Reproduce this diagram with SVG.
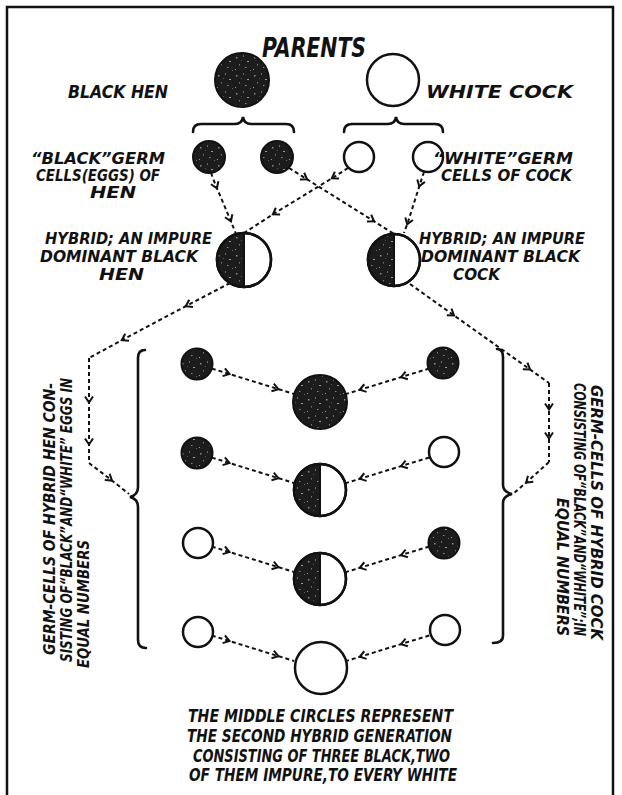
<svg xmlns="http://www.w3.org/2000/svg" width="622" height="795" viewBox="0 0 622 795">
<style>
.t{font-family:"DejaVu Sans Condensed","DejaVu Sans","Liberation Sans",sans-serif;font-weight:bold;font-style:oblique;fill:#111;font-size:16px;}
.s{font-size:15px;}
.b{fill:url(#spk);stroke:#111;stroke-width:2;}
.w{fill:#fff;stroke:#111;stroke-width:2.5;}
.h{fill:url(#spk);stroke:none;}
.c{fill:none;stroke:#111;stroke-width:2;stroke-dasharray:4 3;marker-mid:url(#arr);}
.br{fill:none;stroke:#111;stroke-width:2.6;stroke-linecap:round;}
</style>
<defs>
<pattern id="spk" width="18" height="18" patternUnits="userSpaceOnUse">
<rect width="18" height="18" fill="#1c1c1c"/>
<rect x="2" y="3" width="1.5" height="1.5" fill="#8a8a8a"/>
<rect x="9" y="1" width="1" height="2" fill="#6a6a6a"/>
<rect x="13" y="7" width="2" height="1" fill="#9a9a9a"/>
<rect x="5" y="10" width="1" height="1.5" fill="#777"/>
<rect x="11" y="13" width="1.5" height="1" fill="#888"/>
<rect x="1" y="15" width="1" height="1" fill="#999"/>
<rect x="16" y="16" width="1" height="1" fill="#666"/>
<rect x="7" y="6" width="1" height="1" fill="#555"/>
</pattern>
<marker id="arr" viewBox="-6 -6 12 12" markerWidth="12" markerHeight="12" markerUnits="userSpaceOnUse" orient="auto" refX="0" refY="0">
<path d="M-3.5,-4 L2.5,0 L-3.5,4" fill="none" stroke="#111" stroke-width="2"/>
</marker>
</defs>
<rect width="622" height="795" fill="#fff"/>
<path d="M7,795 L7,7 L613,7 L613,795" fill="none" stroke="#111" stroke-width="2.5"/>

<g id="connectors">
<path class="c" d="M211,173 L216,186 L230,219 L236,234"/>
<path class="c" d="M289,168 L305,178 L372,220 L394,234"/>
<path class="c" d="M348,168 L334,177 L275,213 L244,233"/>
<path class="c" d="M424,172 L420,184 L408,222 L404,233"/>
<path class="c" d="M230,283 L188,305 L124,339 L89,358"/>
<path class="c" d="M89,358 L89,400 L89,442 L89,463"/>
<path class="c" d="M89,463 L110,479 L129,494"/>
<path class="c" d="M410,284 L452,314 L528,368 L549,383"/>
<path class="c" d="M549,383 L549,407 L549,436 L549,462"/>
<path class="c" d="M549,462 L528,481 L514,493"/>
<path class="c" d="M211.8,368.6 L227.1,373.3 L276,388.4 L294.2,394"/>
<path class="c" d="M429.2,368.5 L403.4,376.4 L362.1,389.1 L345.8,394.1"/>
<path class="c" d="M211.8,457.6 L227.1,462.3 L276,477.4 L294.2,483"/>
<path class="c" d="M429.2,457.5 L403.4,465.4 L362.1,478.1 L345.8,483.1"/>
<path class="c" d="M211.8,546.6 L227.1,551.3 L276,566.4 L294.2,572"/>
<path class="c" d="M429.2,546.5 L403.4,554.4 L362.1,567.1 L345.8,572.1"/>
<path class="c" d="M211.8,635.6 L227.1,640.3 L276,655.4 L294.2,661"/>
<path class="c" d="M429.2,635.5 L403.4,643.4 L362.1,656.1 L345.8,661.1"/>
</g>

<g id="title"><text class="t" x="262" y="57" style="font-size:26px" textLength="104" lengthAdjust="spacingAndGlyphs">PARENTS</text></g>

<g id="black-hen">
<circle class="b" cx="242" cy="80" r="27"/>
<text class="t" x="68" y="98" style="font-size:18px" textLength="100" lengthAdjust="spacingAndGlyphs">BLACK HEN</text>
</g>
<g id="white-cock">
<circle class="w" cx="393" cy="80" r="26"/>
<text class="t" x="426" y="98" style="font-size:18px" textLength="147" lengthAdjust="spacingAndGlyphs">WHITE COCK</text>
</g>

<g id="braces-top">
<path class="br" d="M193,132 Q193,124 201,124 L235,124 Q242,124 243,117 Q244,124 251,124 L286,124 Q294,124 294,132"/>
<path class="br" d="M344,132 Q344,124 352,124 L388,124 Q395,124 396,117 Q397,124 404,124 L435,124 Q443,124 443,132"/>
</g>

<g id="hen-germ-cells">
<circle class="b" cx="209" cy="157" r="16"/>
<circle class="b" cx="277" cy="157" r="16"/>
<text class="t s" x="31" y="164" textLength="134" lengthAdjust="spacingAndGlyphs">“BLACK”GERM</text>
<text class="t s" x="36" y="181" textLength="124" lengthAdjust="spacingAndGlyphs">CELLS(EGGS) OF</text>
<text class="t s" x="90" y="198" textLength="46" lengthAdjust="spacingAndGlyphs">HEN</text>
</g>
<g id="cock-germ-cells">
<circle class="w" cx="359" cy="157" r="15"/>
<circle class="w" cx="428" cy="157" r="15"/>
<text class="t s" x="433" y="164" textLength="140" lengthAdjust="spacingAndGlyphs">“WHITE”GERM</text>
<text class="t s" x="441" y="181" textLength="131" lengthAdjust="spacingAndGlyphs">CELLS OF COCK</text>
</g>

<g id="hybrid-hen">
<circle class="w" cx="244" cy="260" r="27"/>
<path class="h" d="M244,233 A27,27 0 0 0 244,287 Z"/>
<circle cx="244" cy="260" r="27" fill="none" stroke="#111" stroke-width="2.5"/>
<line x1="244" y1="233" x2="244" y2="287" stroke="#111" stroke-width="2"/>
<text class="t" x="45" y="244" textLength="167" lengthAdjust="spacingAndGlyphs">HYBRID; AN IMPURE</text>
<text class="t" x="40" y="262" textLength="158" lengthAdjust="spacingAndGlyphs">DOMINANT BLACK</text>
<text class="t" x="99" y="280" textLength="45" lengthAdjust="spacingAndGlyphs">HEN</text>
</g>
<g id="hybrid-cock">
<circle class="w" cx="394" cy="260" r="26"/>
<path class="h" d="M394,234 A26,26 0 0 0 394,286 Z"/>
<circle cx="394" cy="260" r="26" fill="none" stroke="#111" stroke-width="2.5"/>
<line x1="394" y1="234" x2="394" y2="286" stroke="#111" stroke-width="2"/>
<text class="t" x="419" y="244" textLength="166" lengthAdjust="spacingAndGlyphs">HYBRID; AN IMPURE</text>
<text class="t" x="421" y="262" textLength="159" lengthAdjust="spacingAndGlyphs">DOMINANT BLACK</text>
<text class="t" x="453" y="280" textLength="47" lengthAdjust="spacingAndGlyphs">COCK</text>
</g>

<g id="hen-germ-bracket">
<path class="br" d="M145,350 Q138,350 138,358 L138,487 Q138,495 130,497 Q138,499 138,507 L138,640 Q138,648 146,648"/>
<text class="t" transform="translate(55,655) rotate(-90)" textLength="272" lengthAdjust="spacingAndGlyphs">GERM-CELLS OF HYBRID HEN CON-</text>
<text class="t" transform="translate(72,662) rotate(-90)" textLength="284" lengthAdjust="spacingAndGlyphs">SISTING OF“BLACK”AND“WHITE” EGGS IN</text>
<text class="t" transform="translate(89,668) rotate(-90)" textLength="128" lengthAdjust="spacingAndGlyphs">EQUAL NUMBERS</text>
</g>
<g id="cock-germ-bracket">
<path class="br" d="M497,349 Q503,349 503,357 L503,485 Q503,492 512,494 Q503,496 503,503 L503,636 Q503,643 493,643"/>
<text class="t" transform="translate(591,385) rotate(90)" textLength="255" lengthAdjust="spacingAndGlyphs">GERM-CELLS OF HYBRID COCK</text>
<text class="t" transform="translate(574,383) rotate(90)" textLength="253" lengthAdjust="spacingAndGlyphs">CONSISTING OF“BLACK”AND“WHITE”;IN</text>
<text class="t" transform="translate(557,498) rotate(90)" textLength="138" lengthAdjust="spacingAndGlyphs">EQUAL NUMBERS</text>
</g>

<g id="row1">
<circle class="b" cx="197" cy="364" r="15.5"/>
<circle class="b" cx="320" cy="402" r="27"/>
<circle class="b" cx="443" cy="363" r="15.5"/>
</g>
<g id="row2">
<circle class="b" cx="197" cy="453" r="15.5"/>
<circle class="w" cx="320" cy="490" r="26"/>
<path class="h" d="M320,464 A26,26 0 0 0 320,516 Z"/>
<circle cx="320" cy="490" r="26" fill="none" stroke="#111" stroke-width="2.5"/>
<line x1="320" y1="464" x2="320" y2="516" stroke="#111" stroke-width="2"/>
<circle class="w" cx="444" cy="452" r="15"/>
</g>
<g id="row3">
<circle class="w" cx="198" cy="543" r="15"/>
<circle class="w" cx="320" cy="579" r="26"/>
<path class="h" d="M320,553 A26,26 0 0 0 320,605 Z"/>
<circle cx="320" cy="579" r="26" fill="none" stroke="#111" stroke-width="2.5"/>
<line x1="320" y1="553" x2="320" y2="605" stroke="#111" stroke-width="2"/>
<circle class="b" cx="444" cy="543" r="15.5"/>
</g>
<g id="row4">
<circle class="w" cx="198" cy="632" r="15"/>
<circle class="w" cx="321" cy="668" r="26"/>
<circle class="w" cx="445" cy="630" r="15"/>
</g>

<g id="caption">
<text class="t" x="188" y="722" style="font-size:17px" textLength="265" lengthAdjust="spacingAndGlyphs">THE MIDDLE CIRCLES REPRESENT</text>
<text class="t" x="187" y="742" style="font-size:17px" textLength="265" lengthAdjust="spacingAndGlyphs">THE SECOND HYBRID GENERATION</text>
<text class="t" x="193" y="762" style="font-size:17px" textLength="257" lengthAdjust="spacingAndGlyphs">CONSISTING OF THREE BLACK,TWO</text>
<text class="t" x="189" y="781" style="font-size:17px" textLength="268" lengthAdjust="spacingAndGlyphs">OF THEM IMPURE,TO EVERY WHITE</text>
</g>
</svg>
